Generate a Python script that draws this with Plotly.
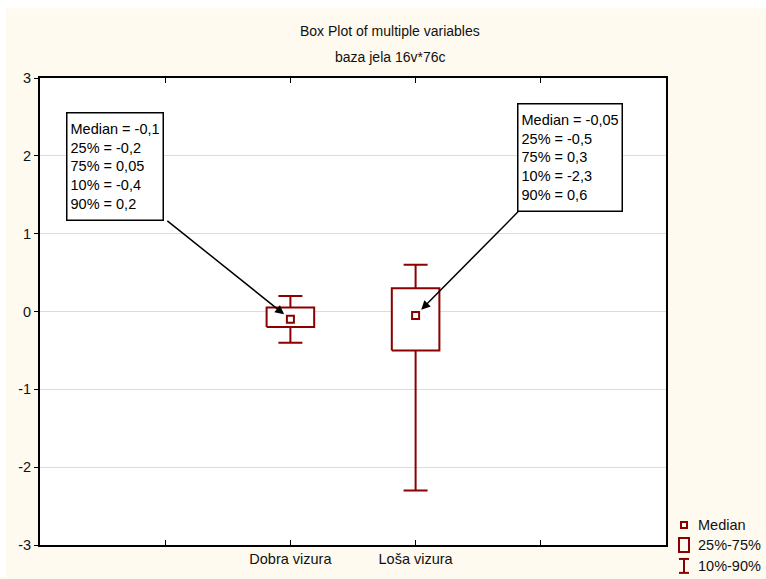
import plotly.graph_objects as go

# ---- data ----
categories = ["Dobra vizura", "Loša vizura"]
positions = [2, 3]
median = [-0.1, -0.05]
q25 = [-0.2, -0.5]
q75 = [0.05, 0.3]
p10 = [-0.4, -2.3]
p90 = [0.2, 0.6]

yticks = [-3, -2, -1, 0, 1, 2, 3]

RED = "#8B0000"
CREAM = "#FEFAEF"
FONT = "Liberation Sans"
HALF = 0.19

W, H = 766, 579
L, R, T, B = 40, 100, 78, 32
pw, ph = W - L - R, H - T - B


def px(x):
    return (x - L) / pw


def py(y):
    return (H - B - y) / ph


def fmt(v):
    s = ("%g" % v).replace(".", ",")
    return s


fig = go.Figure()

# whiskers (10%-90%) via error bars
fig.add_trace(go.Scatter(
    x=positions, y=median, mode="markers",
    marker=dict(size=1, color="rgba(0,0,0,0)"),
    error_y=dict(type="data", symmetric=False,
                 array=[p90[i] - median[i] for i in range(len(median))],
                 arrayminus=[median[i] - p10[i] for i in range(len(median))],
                 color=RED, thickness=2, width=12),
    showlegend=False, hoverinfo="skip"))

# boxes (25%-75%)
for i, pos in enumerate(positions):
    fig.add_trace(go.Scatter(
        x=[pos - HALF, pos + HALF, pos + HALF, pos - HALF, pos - HALF],
        y=[q25[i], q25[i], q75[i], q75[i], q25[i]],
        mode="lines", fill="toself", fillcolor="white",
        line=dict(color=RED, width=2), showlegend=False, hoverinfo="skip"))

# medians
fig.add_trace(go.Scatter(
    x=positions, y=median, mode="markers",
    marker=dict(symbol="square-open", size=7, color=RED, line=dict(width=2, color=RED)),
    showlegend=False))

annotations = []
shapes = []

# title
annotations.append(dict(text="Box Plot of multiple variables", xref="paper", yref="paper",
                        x=px(390), y=py(31), xanchor="center", yanchor="middle",
                        showarrow=False, font=dict(family=FONT, size=14, color="#111")))
annotations.append(dict(text="baza jela 16v*76c", xref="paper", yref="paper",
                        x=px(390), y=py(57), xanchor="center", yanchor="middle",
                        showarrow=False, font=dict(family=FONT, size=14, color="#111")))

# info boxes
box_pos = [(0.21, 2.565), (3.81, 2.68)]
tails = [(1.005, 1.18), (3.83, 1.30)]
for i, pos in enumerate(positions):
    txt = "<br>".join([
        "Median = " + fmt(median[i]),
        "25% = " + fmt(q25[i]),
        "75% = " + fmt(q75[i]),
        "10% = " + fmt(p10[i]),
        "90% = " + fmt(p90[i]),
    ])
    bx, by = box_pos[i]
    annotations.append(dict(text=txt, x=bx, y=by, xref="x", yref="y",
                            xanchor="left", yanchor="top", align="left",
                            valign="middle", height=100,
                            showarrow=False, bgcolor="white",
                            bordercolor="black", borderwidth=1.5, borderpad=3,
                            font=dict(family=FONT, size=14.5, color="black")))
    tx, ty = tails[i]
    annotations.append(dict(text="", x=pos, y=median[i], xref="x", yref="y",
                            ax=tx, ay=ty, axref="x", ayref="y",
                            showarrow=True, arrowhead=2, arrowsize=1.2,
                            arrowwidth=1.5, arrowcolor="black", standoff=8))

# legend (drawn manually)
legend_items = ["Median", "25%-75%", "10%-90%"]
legend_y = [527, 547, 568]
for lab, ly in zip(legend_items, legend_y):
    annotations.append(dict(text=lab, xref="paper", yref="paper", x=px(696), y=py(ly),
                            xanchor="left", yanchor="middle", showarrow=False,
                            font=dict(family=FONT, size=14.5, color="#111")))
shapes.append(dict(type="rect", xref="paper", yref="paper",
                   x0=px(681), x1=px(687), y0=py(530), y1=py(524),
                   line=dict(color=RED, width=2)))
shapes.append(dict(type="rect", xref="paper", yref="paper",
                   x0=px(679), x1=px(689), y0=py(554), y1=py(540),
                   line=dict(color=RED, width=2)))
shapes.append(dict(type="line", xref="paper", yref="paper",
                   x0=px(684), x1=px(684), y0=py(575), y1=py(561),
                   line=dict(color=RED, width=2)))
shapes.append(dict(type="line", xref="paper", yref="paper",
                   x0=px(679), x1=px(689), y0=py(575), y1=py(575),
                   line=dict(color=RED, width=2)))
shapes.append(dict(type="line", xref="paper", yref="paper",
                   x0=px(679), x1=px(689), y0=py(561), y1=py(561),
                   line=dict(color=RED, width=2)))

# white outer strips (top and left)
shapes.append(dict(type="rect", xref="paper", yref="paper", layer="below",
                   x0=px(0), x1=px(W), y0=py(8), y1=py(0),
                   fillcolor="white", line=dict(width=0)))
shapes.append(dict(type="rect", xref="paper", yref="paper", layer="below",
                   x0=px(0), x1=px(6), y0=py(H), y1=py(0),
                   fillcolor="white", line=dict(width=0)))

fig.update_layout(
    width=W, height=H,
    margin=dict(l=L, r=R, t=T, b=B, pad=0),
    paper_bgcolor=CREAM, plot_bgcolor="white",
    showlegend=False,
    annotations=annotations, shapes=shapes,
    xaxis=dict(range=[0, 5], tickvals=[1, 2, 3, 4],
               ticktext=["", categories[0], categories[1], ""],
               ticks="inside", ticklen=5, tickcolor="black", tickwidth=1,
               showgrid=False, zeroline=False,
               showline=True, linecolor="black", linewidth=2, mirror="ticks",
               tickfont=dict(family=FONT, size=14.5, color="#111")),
    yaxis=dict(range=[-3, 3], tickvals=yticks, ticktext=[str(v) for v in yticks],
               ticks="outside", ticklen=4, tickcolor="black", tickwidth=1,
               showgrid=True, gridcolor="#DCDCDC", gridwidth=1, zeroline=False,
               showline=True, linecolor="black", linewidth=2, mirror=True,
               tickfont=dict(family=FONT, size=14.5, color="#111")),
)

fig.write_html("out.html", config={"displayModeBar": False},
               post_script="document.body.style.margin='0';document.body.style.padding='0';")
